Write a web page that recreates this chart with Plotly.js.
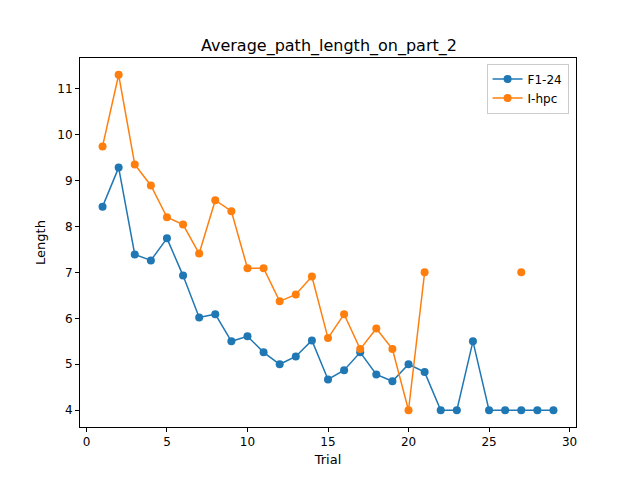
<!DOCTYPE html>
<html>
<head>
<script src="https://cdn.plot.ly/plotly-3.0.1.min.js"></script>
<style>body{margin:0}</style>
</head>
<body>
<div id="chart" style="width:640px;height:480px"></div>
<script>
var trials = [];
for (var i = 1; i <= 29; i++) trials.push(i);

var f124 = [8.43, 9.28, 7.39, 7.26, 7.74, 6.93, 6.02, 6.09, 5.5, 5.61,
            5.26, 5.0, 5.17, 5.52, 4.67, 4.87, 5.26, 4.78, 4.63, 5.0,
            4.83, 4, 4, 5.5, 4, 4, 4, 4, 4];
var ihpc = [9.74, 11.3, 9.35, 8.89, 8.2, 8.04, 7.41, 8.57, 8.33, 7.09,
            7.09, 6.37, 6.52, 6.91, 5.57, 6.09, 5.33, 5.78, 5.33, 4,
            7.0, null, null, null, null, null, 7.0, null, null];

var trace1 = {
    x: trials, y: f124, name: 'F1-24', type: 'scatter', mode: 'lines+markers',
    line: {color: '#1f77b4', width: 1.5},
    marker: {color: '#1f77b4', size: 8}
};
var trace2 = {
    x: trials, y: ihpc, name: 'I-hpc', type: 'scatter', mode: 'lines+markers',
    line: {color: '#ff7f0e', width: 1.5},
    marker: {color: '#ff7f0e', size: 8}
};

var axisStyle = {
    showgrid: false, zeroline: false, showline: true, mirror: true,
    linecolor: 'black', linewidth: 1, ticks: 'outside', ticklen: 4,
    tickcolor: 'black', tickfont: {size: 12}
};

var layout = {
    font: {family: 'DejaVu Sans', size: 12, color: 'black'},
    width: 640, height: 480,
    margin: {l: 80, r: 64, t: 58, b: 53},
    paper_bgcolor: 'white', plot_bgcolor: 'white',
    title: {text: 'Average_path_length_on_part_2', font: {size: 16}, x: 0.514, y: 0.905, xanchor: 'center', yanchor: 'middle'},
    xaxis: Object.assign({}, axisStyle, {range: [-0.4, 30.4], dtick: 5, title: {text: 'Trial', standoff: 6, font: {size: 13}}}),
    yaxis: Object.assign({}, axisStyle, {range: [3.635, 11.665], dtick: 1, title: {text: 'Length', standoff: 8, font: {size: 13}}}),
    legend: {x: 0.985, y: 0.985, xanchor: 'right', yanchor: 'top',
             bordercolor: '#cccccc', borderwidth: 1, bgcolor: 'white', font: {size: 12}},
    showlegend: true
};

Plotly.newPlot('chart', [trace1, trace2], layout, {displayModeBar: false});
</script>
</body>
</html>
